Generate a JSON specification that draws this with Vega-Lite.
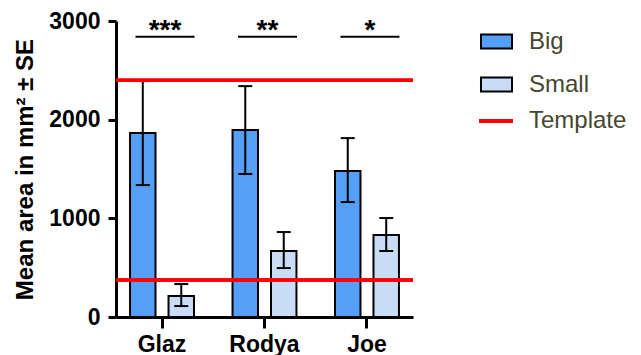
{
  "$schema": "https://vega.github.io/schema/vega-lite/v6.json",
  "width": 297,
  "height": 296,
  "autosize": "none",
  "padding": {"left": 116, "top": 21, "right": 228, "bottom": 38},
  "background": "white",
  "config": {
    "view": {"stroke": null},
    "font": "Liberation Sans"
  },
  "datasets": {
    "bars": [
      {"group": "Glaz", "series": "Big", "mean": 1864, "lo": 1337, "hi": 2391},
      {"group": "Glaz", "series": "Small", "mean": 213, "lo": 111, "hi": 334},
      {"group": "Rodya", "series": "Big", "mean": 1895, "lo": 1449, "hi": 2340},
      {"group": "Rodya", "series": "Small", "mean": 669, "lo": 496, "hi": 861},
      {"group": "Joe", "series": "Big", "mean": 1479, "lo": 1165, "hi": 1813},
      {"group": "Joe", "series": "Small", "mean": 831, "lo": 669, "hi": 1003}
    ],
    "template": [
      {"series": "Template", "value": 2400},
      {"series": "Template", "value": 375}
    ],
    "sig": [
      {"group": "Glaz", "stars": "***", "y": 2840},
      {"group": "Rodya", "stars": "**", "y": 2840},
      {"group": "Joe", "stars": "*", "y": 2840}
    ]
  },
  "layer": [
    {
      "data": {"name": "bars"},
      "mark": {"type": "bar", "stroke": "black", "strokeWidth": 2},
      "encoding": {
        "x": {"field": "group", "type": "nominal", "sort": ["Glaz", "Rodya", "Joe"],
              "scale": {"paddingInner": 0.376, "paddingOuter": 0.137},
              "axis": {"title": null, "labelAngle": 0, "tickSize": 11, "labelPadding": 5,
                       "domainColor": "black", "domainWidth": 3, "tickColor": "black", "tickWidth": 3,
                       "labelColor": "black", "labelFont": "Liberation Sans", "labelFontWeight": "bold", "labelFontSize": 23}},
        "xOffset": {"field": "series", "type": "nominal", "scale": {"paddingInner": 0.338, "paddingOuter": 0}},
        "y": {"field": "mean", "type": "quantitative",
              "scale": {"domain": [0, 3000], "nice": false},
              "axis": {"title": "Mean area in mm² ± SE", "values": [0, 1000, 2000, 3000], "format": "d", "grid": false,
                       "tickSize": 8, "labelPadding": 8, "titlePadding": 11,
                       "domainColor": "black", "domainWidth": 3, "tickColor": "black", "tickWidth": 3,
                       "labelColor": "black", "labelFont": "Liberation Sans", "labelFontWeight": "bold", "labelFontSize": 23,
                       "titleColor": "black", "titleFont": "Liberation Sans", "titleFontWeight": "bold", "titleFontSize": 24}},
        "fill": {"field": "series", "type": "nominal",
                 "scale": {"domain": ["Big", "Small"], "range": ["#559ff7", "#c8dcf5"]},
                 "legend": {
                   "title": null, "orient": "none", "legendX": 363, "legendY": 3,
                   "padding": 0, "symbolSize": 1089, "rowPadding": 13, "labelOffset": 15,
                   "symbolType": "M-0.94,-0.42H0.94V0.42H-0.94Z", "symbolStrokeColor": "black", "symbolStrokeWidth": 2,
                   "labelFont": "Liberation Sans", "labelFontSize": 24, "labelColor": "#46462e"
                 }}
      }
    },
    {
      "data": {"name": "template"},
      "mark": {"type": "rule", "strokeWidth": 3.5},
      "encoding": {
        "y": {"field": "value", "type": "quantitative"},
        "stroke": {"field": "series", "type": "nominal",
                   "scale": {"domain": ["Template"], "range": ["#ff0000"]},
                   "legend": {
                     "title": null, "orient": "none", "legendX": 361, "legendY": 81,
                     "padding": 0, "symbolSize": 1156, "labelOffset": 14,
                     "symbolType": "M-1,0H1", "symbolStrokeWidth": 4,
                     "labelFont": "Liberation Sans", "labelFontSize": 24, "labelColor": "#46462e"
                   }}
      }
    },
    {
      "data": {"name": "bars"},
      "mark": {"type": "rule", "color": "black", "strokeWidth": 2, "opacity": 1},
      "encoding": {
        "x": {"field": "group", "type": "nominal", "sort": ["Glaz", "Rodya", "Joe"]},
        "xOffset": {"field": "series", "type": "nominal"},
        "y": {"field": "lo", "type": "quantitative"},
        "y2": {"field": "hi"}
      }
    },
    {
      "data": {"name": "bars"},
      "mark": {"type": "tick", "color": "black", "thickness": 2, "size": 14, "opacity": 1},
      "encoding": {
        "x": {"field": "group", "type": "nominal", "sort": ["Glaz", "Rodya", "Joe"]},
        "xOffset": {"field": "series", "type": "nominal"},
        "y": {"field": "lo", "type": "quantitative"}
      }
    },
    {
      "data": {"name": "bars"},
      "mark": {"type": "tick", "color": "black", "thickness": 2, "size": 14, "opacity": 1},
      "encoding": {
        "x": {"field": "group", "type": "nominal", "sort": ["Glaz", "Rodya", "Joe"]},
        "xOffset": {"field": "series", "type": "nominal"},
        "y": {"field": "hi", "type": "quantitative"}
      }
    },
    {
      "data": {"name": "template"},
      "mark": {"type": "rule", "strokeWidth": 3.5, "color": "#ff0000", "opacity": 1},
      "encoding": {
        "y": {"field": "value", "type": "quantitative"}
      }
    },
    {
      "data": {"name": "sig"},
      "mark": {"type": "tick", "color": "black", "thickness": 2, "size": 59, "xOffset": 3, "opacity": 1},
      "encoding": {
        "x": {"field": "group", "type": "nominal", "sort": ["Glaz", "Rodya", "Joe"]},
        "y": {"field": "y", "type": "quantitative"}
      }
    },
    {
      "data": {"name": "sig"},
      "mark": {"type": "text", "color": "black", "font": "Liberation Sans", "fontWeight": "bold", "fontSize": 28, "baseline": "alphabetic", "dy": 2, "dx": 3},
      "encoding": {
        "x": {"field": "group", "type": "nominal", "sort": ["Glaz", "Rodya", "Joe"]},
        "y": {"field": "y", "type": "quantitative"},
        "text": {"field": "stars"}
      }
    }
  ]
}
